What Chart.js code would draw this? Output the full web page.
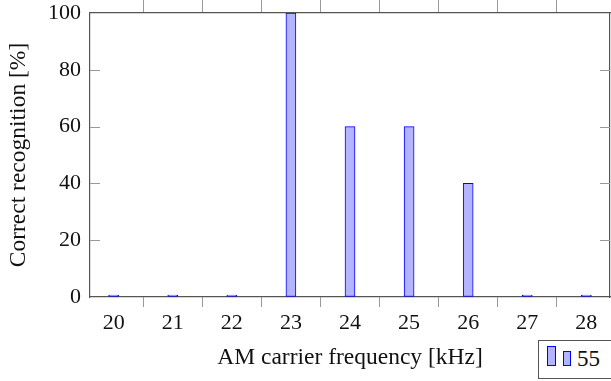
<!DOCTYPE html>
<html>
<head>
<meta charset="utf-8">
<script src="https://cdn.jsdelivr.net/npm/chart.js@4.4.1/dist/chart.umd.min.js"></script>
<style>
  html, body { margin: 0; padding: 0; background: #fff; }
  #wrap { position: relative; width: 611px; height: 381px; overflow: hidden; }
  #legend {
    position: absolute; left: 538px; top: 340px; width: 90px; height: 39px;
    border: 1px solid #555; background: #fff; box-sizing: border-box;
    font-family: "Liberation Serif", serif; font-size: 23px; color: #111;
  }
  #legend .ic { position: absolute; background: rgb(179,179,255); border: 1px solid #0000ff; box-sizing: border-box; }
  #legend .txt { position: absolute; left: 38px; top: 5px; line-height: 26px; }
</style>
</head>
<body>
<div id="wrap">
  <canvas id="c" width="611" height="381"></canvas>
  <div id="legend"></div>
</div>
<script>
const categories = [20, 21, 22, 23, 24, 25, 26, 27, 28];
const recognition = [0, 0, 0, 100, 60, 60, 40, 0, 0];
const yTickValues = [0, 20, 40, 60, 80, 100];
const seriesLabel = '55';
const xTitle = 'AM carrier frequency [kHz]';
const yTitle = 'Correct recognition [%]';

const TICKFONT = { family: '"Liberation Serif", serif', size: 22 };
const TITLEFONT = { family: '"Liberation Serif", serif', size: 23.5 };
const AXIS = '#555';
const TICK = '#999';

const innerYTicks = {
  id: 'innerYTicks',
  beforeDatasetsDraw(chart) {
    const { ctx, chartArea } = chart;
    const ys = chart.scales.y;
    ctx.save();
    ctx.strokeStyle = TICK;
    ctx.lineWidth = 1;
    ys.ticks.forEach(t => {
      if (t.value === ys.min || t.value === ys.max) return;
      const py = Math.round(ys.getPixelForValue(t.value)) + 0.5;
      ctx.beginPath();
      ctx.moveTo(chartArea.left, py); ctx.lineTo(chartArea.left + 10, py);
      ctx.moveTo(chartArea.right - 10, py); ctx.lineTo(chartArea.right, py);
      ctx.stroke();
    });
    ctx.restore();
  }
};

const setXTicks = s => { s.ticks = categories.map(v => ({ value: v })); };
const setYTicks = s => { s.ticks = yTickValues.map(v => ({ value: v })); };
const noPad = s => { s.paddingTop = 0; s.paddingBottom = 0; s.paddingLeft = 0; s.paddingRight = 0; };

const chart = new Chart(document.getElementById('c'), {
  type: 'bar',
  data: {
    datasets: [{
      label: seriesLabel,
      data: categories.map((c, i) => ({ x: c, y: recognition[i] })),
      backgroundColor: 'rgb(179,179,255)',
      borderColor: '#0000ff',
      borderWidth: 1,
      borderSkipped: false,
      barThickness: 10,
      minBarLength: 2
    }]
  },
  options: {
    responsive: false,
    animation: false,
    layout: { padding: 0 },
    plugins: { legend: { display: false }, tooltip: { enabled: false } },
    scales: {
      x: {
        type: 'linear', position: 'bottom', min: 19.6, max: 28.4, offset: false,
        afterBuildTicks: setXTicks,
        afterFit: s => { noPad(s); s.height = 84; },
        grid: { drawOnChartArea: false, drawTicks: true, tickLength: 10, color: TICK, lineWidth: 1 },
        border: { display: true, color: AXIS, width: 1.2 },
        ticks: { font: TICKFONT, color: '#111', padding: 3, maxRotation: 0, callback: v => String(v) },
        title: { display: true, text: xTitle, font: TITLEFONT, color: '#111', padding: { top: 0, bottom: 9 } }
      },
      x2: {
        type: 'linear', position: 'top', min: 19.6, max: 28.4, offset: false,
        afterBuildTicks: setXTicks,
        afterFit: s => { noPad(s); s.height = 13; },
        grid: { drawOnChartArea: false, drawTicks: true, tickLength: 13, color: TICK, lineWidth: 1 },
        border: { display: true, color: AXIS, width: 1.2 },
        ticks: { display: false }
      },
      y: {
        type: 'linear', position: 'left', min: 0, max: 100,
        afterBuildTicks: setYTicks,
        afterFit: s => { noPad(s); s.width = 90; },
        grid: { drawOnChartArea: false, drawTicks: false, color: TICK },
        border: { display: true, color: AXIS, width: 1.2 },
        ticks: { font: TICKFONT, color: '#111', padding: 9 },
        title: { display: true, text: yTitle, font: TITLEFONT, color: '#111', padding: { top: 5, bottom: 0 } }
      },
      y2: {
        type: 'linear', position: 'right', min: 0, max: 100,
        afterFit: s => { noPad(s); s.width = 1; },
        grid: { drawOnChartArea: false, drawTicks: false },
        border: { display: true, color: AXIS, width: 1.2 },
        ticks: { display: false }
      }
    }
  },
  plugins: [innerYTicks]
});

// legend built from dataset label
const lg = document.getElementById('legend');
const ds = chart.data.datasets[0];
lg.innerHTML =
  '<span class="ic" style="left:8px;top:5px;width:9px;height:20px;"></span>' +
  '<span class="ic" style="left:24px;top:10px;width:8px;height:15px;"></span>' +
  '<span class="txt"></span>';
lg.querySelector('.txt').textContent = ds.label;
</script>
</body>
</html>
